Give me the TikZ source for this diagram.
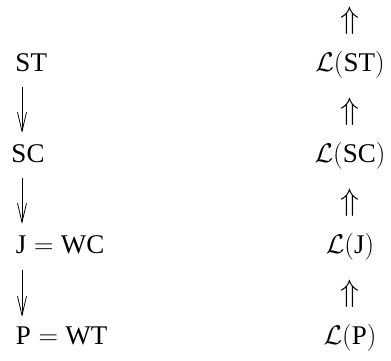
\RequirePackage{fix-cm}
\documentclass[tikz,border=0pt]{standalone}
\usepackage{fontspec}
\setmainfont{Liberation Serif}
\usetikzlibrary{arrows.meta}
\begin{document}
\begin{tikzpicture}[x=1pt,y=1pt,
  lbl/.style={inner sep=0pt,outer sep=0pt,anchor=base west,font=\fontsize{27}{32}\selectfont},
  rlbl/.style={inner sep=0pt,outer sep=0pt,anchor=base,font=\fontsize{27}{32}\selectfont},
  up/.style={inner sep=0pt,outer sep=0pt,anchor=center,font=\fontsize{31}{36}\selectfont},
  dn/.style={line width=0.8pt,-{Straight Barb[length=19pt,width=9pt,line width=0.8pt]}}]
\useasboundingbox (0,0) rectangle (391,-361);
% left column
\node[lbl] (st) at (15.5,-71) {ST};
\node[lbl] (sc) at (11.5,-162) {SC};
\node[lbl] (j) at (16,-253) {$\mathrm{J}=\mathrm{WC}$};
\node[lbl] (p) at (16,-344) {$\mathrm{P}=\mathrm{WT}$};
\draw[dn] (st.base west) ++(6.5,-16) -- ++(0,-46);
\draw[dn] (sc.base west) ++(10.5,-16) -- ++(0,-46);
\draw[dn] (j.base west) ++(6,-17) -- ++(0,-47);
% right column
\node[up] (u0) at (350,-21) {$\Uparrow$};
\node[rlbl] (lst) at (350,-71) {$\mathcal{L}(\mathrm{ST})$};
\node[up] (u1) at (350,-112) {$\Uparrow$};
\node[rlbl] (lsc) at (350,-162) {$\mathcal{L}(\mathrm{SC})$};
\node[up] (u2) at (350,-203) {$\Uparrow$};
\node[rlbl] (lj) at (350,-253) {$\mathcal{L}(\mathrm{J})$};
\node[up] (u3) at (350,-294) {$\Uparrow$};
\node[rlbl] (lp) at (350,-344) {$\mathcal{L}(\mathrm{P})$};
\end{tikzpicture}
\end{document}
